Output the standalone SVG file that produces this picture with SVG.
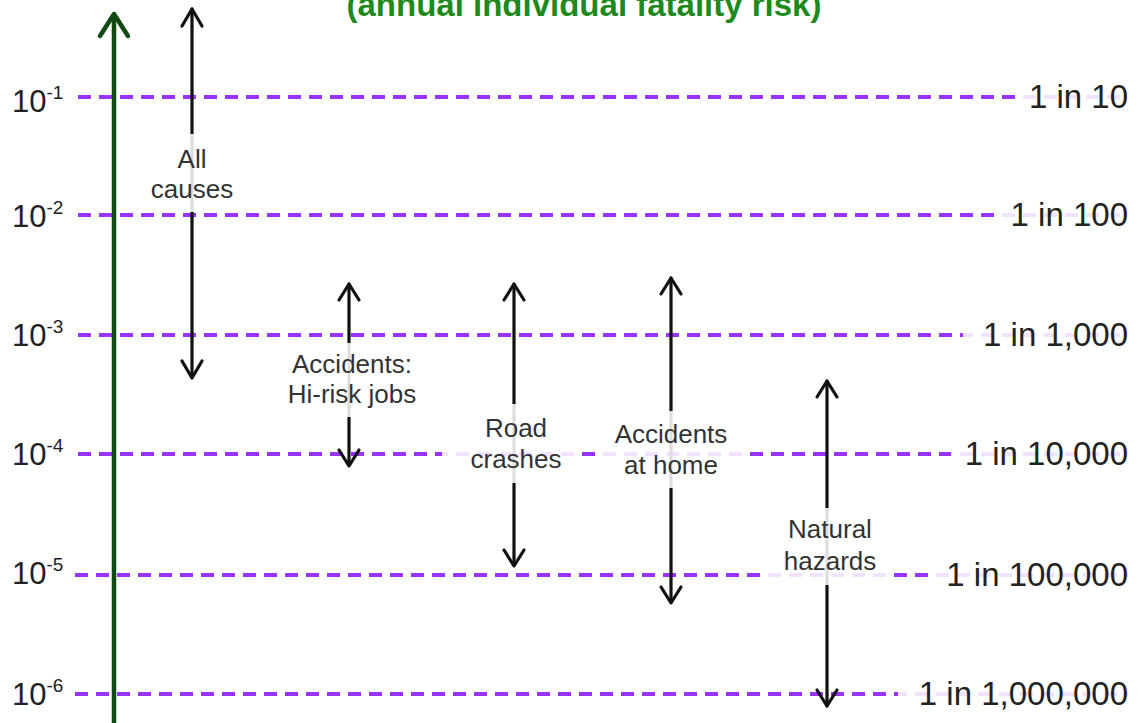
<svg xmlns="http://www.w3.org/2000/svg" width="1139" height="723" viewBox="0 0 1139 723">
<style>
.grid{stroke:#9933ff;stroke-width:4;stroke-dasharray:13 8;fill:none}
.halo{fill:#ffffff;fill-opacity:0.86}
.axisl{font-family:"Liberation Sans",Arial,sans-serif;font-size:31px;fill:#222}
.sup{font-size:19px}
.risk{font-family:"Liberation Sans",Arial,sans-serif;font-size:33px;fill:#222;text-anchor:end}
.lbl{font-family:"Liberation Sans",Arial,sans-serif;font-size:26px;fill:#333;text-anchor:middle}
.title{font-family:"Liberation Sans",Arial,sans-serif;font-size:33px;font-weight:bold;fill:#1e8a1e;text-anchor:middle}
.arr{stroke:#111;stroke-width:3.2;fill:none;stroke-linecap:round;stroke-linejoin:round}
.axis{stroke:#0f4a12;stroke-width:4.5;fill:none;stroke-linecap:round;stroke-linejoin:round}
</style>
<rect width="1139" height="723" fill="#ffffff"/>
<text class="title" x="584" y="16">(annual individual fatality risk)</text>

<g id="gridlines">
<line class="grid" x1="78" y1="97" x2="1128" y2="97"/>
<line class="grid" x1="78" y1="215" x2="1128" y2="215"/>
<line class="grid" x1="78" y1="335" x2="1128" y2="335"/>
<line class="grid" x1="78" y1="454" x2="1128" y2="454"/>
<line class="grid" x1="75" y1="575" x2="1128" y2="575"/>
<line class="grid" x1="75" y1="694" x2="1128" y2="694"/>
</g>

<g id="axis">
<line class="axis" x1="114" y1="15" x2="114" y2="723"/>
<polyline class="axis" points="100,36 114,14 128,36"/>
</g>

<g id="axis-labels">
<text class="axisl" x="12" y="112">10<tspan class="sup" dy="-13">-1</tspan></text>
<text class="axisl" x="12" y="227">10<tspan class="sup" dy="-13">-2</tspan></text>
<text class="axisl" x="12" y="346">10<tspan class="sup" dy="-13">-3</tspan></text>
<text class="axisl" x="12" y="465">10<tspan class="sup" dy="-13">-4</tspan></text>
<text class="axisl" x="12" y="584">10<tspan class="sup" dy="-13">-5</tspan></text>
<text class="axisl" x="12" y="705">10<tspan class="sup" dy="-13">-6</tspan></text>
</g>

<g id="connectors">
<line class="arr" x1="192" y1="9" x2="192" y2="377"/>
<polyline class="arr" points="182,26 192,9 202,26"/>
<polyline class="arr" points="182,361 192,378 202,361"/>

<line class="arr" x1="349" y1="284" x2="349" y2="465"/>
<polyline class="arr" points="339,300 349,284 359,300"/>
<polyline class="arr" points="339,450 349,466 359,450"/>

<line class="arr" x1="514" y1="284" x2="514" y2="565"/>
<polyline class="arr" points="504,300 514,284 524,300"/>
<polyline class="arr" points="504,550 514,566 524,550"/>

<line class="arr" x1="671" y1="278" x2="671" y2="602"/>
<polyline class="arr" points="661,294 671,278 681,294"/>
<polyline class="arr" points="661,587 671,603 681,587"/>

<line class="arr" x1="827" y1="381" x2="827" y2="706"/>
<polyline class="arr" points="817,397 827,381 837,397"/>
<polyline class="arr" points="817,690 827,706 837,690"/>
</g>

<g id="all-causes">
<rect class="halo" x="145" y="134" width="94" height="78"/>
<text class="lbl" x="192" y="168">All</text>
<text class="lbl" x="192" y="198">causes</text>
</g>
<g id="hi-risk-jobs">
<rect class="halo" x="283" y="343" width="138" height="74"/>
<text class="lbl" x="352" y="373">Accidents:</text>
<text class="lbl" x="352" y="403">Hi-risk jobs</text>
</g>
<g id="road-crashes">
<rect class="halo" x="442" y="404" width="140" height="79"/>
<text class="lbl" x="516" y="437">Road</text>
<text class="lbl" x="516" y="468">crashes</text>
</g>
<g id="accidents-at-home">
<rect class="halo" x="601" y="411" width="141" height="77"/>
<text class="lbl" x="671" y="443">Accidents</text>
<text class="lbl" x="671" y="474">at home</text>
</g>
<g id="natural-hazards">
<rect class="halo" x="762" y="508" width="124" height="77"/>
<text class="lbl" x="830" y="538">Natural</text>
<text class="lbl" x="830" y="570">hazards</text>
</g>

<g id="risk-labels">
<rect class="halo" x="1015" y="79" width="124" height="36"/>
<text class="risk" x="1128" y="108">1 in 10</text>
<rect class="halo" x="996" y="197" width="143" height="36"/>
<text class="risk" x="1128" y="226">1 in 100</text>
<rect class="halo" x="963" y="317" width="176" height="36"/>
<text class="risk" x="1128" y="346">1 in 1,000</text>
<rect class="halo" x="951" y="436" width="188" height="36"/>
<text class="risk" x="1128" y="465">1 in 10,000</text>
<rect class="halo" x="931" y="557" width="208" height="36"/>
<text class="risk" x="1128" y="586">1 in 100,000</text>
<rect class="halo" x="898" y="676" width="241" height="36"/>
<text class="risk" x="1128" y="705">1 in 1,000,000</text>
</g>
</svg>
